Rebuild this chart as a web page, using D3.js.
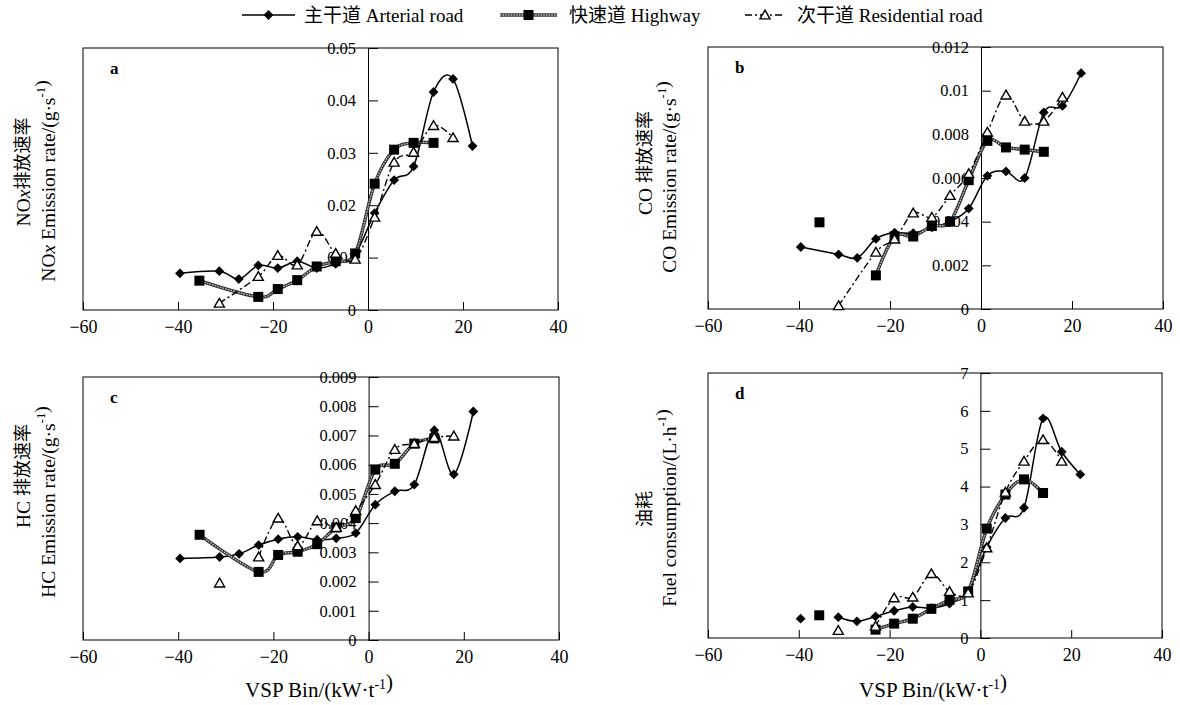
<!DOCTYPE html>
<html>
<head>
<meta charset="utf-8">
<script src="https://cdn.jsdelivr.net/npm/d3@7"></script>
<style>
  body { margin: 0; background: #fff; }
  text { font-family: "Liberation Serif", "Noto Sans CJK SC", serif; fill: #000; }
</style>
</head>
<body>
<svg id="chart" width="1180" height="705"></svg>
<script>
// VSP bin centres (kW/t) shared by all four panels
const vspBins = [-39.6, -35.5, -31.3, -27.2, -23.1, -19.0, -14.9, -10.8, -6.8, -2.7, 1.4, 5.5, 9.6, 13.8, 17.9, 22.0];
const xTickValues = [-60, -40, -20, 0, 20, 40];

// a: NOx emission rate (g/s); null = no sample in that bin
const noxArterial    = [0.0070, null, 0.0074, 0.0059, 0.0085, 0.0080, 0.0093, 0.0080, 0.0088, 0.0107, 0.0185, 0.0248, 0.0274, 0.0416, 0.0441, 0.0313];
const noxHighway     = [null, 0.0056, null, null, 0.0025, 0.0040, 0.0057, 0.0083, 0.0093, 0.0108, 0.0241, 0.0306, 0.0319, 0.0319, null, null];
const noxResidential = [null, null, 0.0013, null, 0.0064, 0.0104, 0.0086, 0.0150, 0.0108, 0.0097, 0.0177, 0.0282, 0.0301, 0.0352, 0.0329, null];

// b: CO emission rate (g/s)
const coArterial    = [0.00284, null, 0.00250, 0.00234, 0.00321, 0.00350, 0.00347, 0.00374, 0.00400, 0.00460, 0.00610, 0.00630, 0.00600, 0.00900, 0.00930, 0.01080];
const coHighway     = [null, 0.00397, null, null, 0.00154, 0.00332, 0.00332, 0.00380, 0.00400, 0.00590, 0.00770, 0.00740, 0.00730, 0.00720, null, null];
const coResidential = [null, null, 0.00015, null, 0.00260, 0.00320, 0.00440, 0.00420, 0.00520, 0.00620, 0.00810, 0.00980, 0.00860, 0.00860, 0.00970, null];

// c: HC emission rate (g/s)
const hcArterial    = [0.00279, null, 0.00284, 0.00295, 0.00325, 0.00345, 0.00353, 0.00343, 0.00348, 0.00366, 0.00463, 0.00509, 0.00532, 0.00718, 0.00567, 0.00782];
const hcHighway     = [null, 0.00360, null, null, 0.00233, 0.00291, 0.00302, 0.00328, 0.00385, 0.00417, 0.00583, 0.00603, 0.00672, 0.00690, null, null];
const hcResidential = [null, null, 0.00195, null, 0.00284, 0.00417, 0.00322, 0.00408, 0.00385, 0.00443, 0.00532, 0.00652, 0.00672, 0.00693, 0.00698, null];

// d: fuel consumption (L/h)
const fuelArterial    = [0.51, null, 0.55, 0.44, 0.57, 0.72, 0.82, 0.79, 0.91, 1.23, 2.40, 3.17, 3.44, 5.80, 4.92, 4.32];
const fuelHighway     = [null, 0.60, null, null, 0.22, 0.38, 0.51, 0.77, 1.01, 1.23, 2.89, 3.79, 4.19, 3.83, null, null];
const fuelResidential = [null, null, 0.20, null, 0.31, 1.06, 1.08, 1.70, 1.23, 1.19, 2.38, 3.85, 4.67, 5.24, 4.67, null];

// y-axis tick values per panel
const noxTicks  = [0, 0.01, 0.02, 0.03, 0.04, 0.05];
const coTicks   = [0, 0.002, 0.004, 0.006, 0.008, 0.01, 0.012];
const hcTicks   = [0, 0.001, 0.002, 0.003, 0.004, 0.005, 0.006, 0.007, 0.008, 0.009];
const fuelTicks = [0, 1, 2, 3, 4, 5, 6, 7];

// road types and legend labels
const roadTypes  = ["arterial", "highway", "residential"];
const roadLabels = ["主干道 Arterial road", "快速道 Highway", "次干道 Residential road"];

const svg = d3.select("#chart");
const X_TICK_FONT = 18;
const Y_TICK_FONT = 16.5;
const TITLE_FONT = 19.5;
const TITLE_CJK_FONT = 18;

const panels = [
  { tag: "a", box: [83, 558, 48, 310], ticks: noxTicks,
    data: { arterial: noxArterial, highway: noxHighway, residential: noxResidential },
    detached: {},
    title1: [["NO"], ["x", "i"], ["排放速率", "c"]], t1: [23, 172],
    title2: [["NO"], ["x", "i"], [" Emission rate/(g·s"], ["-1", "s"], [")"]], t2: [48, 181] },
  { tag: "b", box: [708, 1163, 47, 309], ticks: coTicks,
    data: { arterial: coArterial, highway: coHighway, residential: coResidential },
    detached: { highway: [1] },
    title1: [["CO "], ["排放速率", "c"]], t1: [645, 163],
    title2: [["CO Emission rate/(g·s"], ["-1", "s"], [")"]], t2: [669, 177] },
  { tag: "c", box: [83, 559, 377, 640], ticks: hcTicks,
    data: { arterial: hcArterial, highway: hcHighway, residential: hcResidential },
    detached: { residential: [2] },
    title1: [["HC "], ["排放速率", "c"]], t1: [23, 476],
    title2: [["HC Emission rate/(g·s"], ["-1", "s"], [")"]], t2: [48, 502] },
  { tag: "d", box: [708, 1162, 373, 638], ticks: fuelTicks,
    data: { arterial: fuelArterial, highway: fuelHighway, residential: fuelResidential },
    detached: { arterial: [0], highway: [1], residential: [2] },
    title1: [["油耗", "c"]], t1: [645, 509],
    title2: [["Fuel consumption/(L·h"], ["-1", "s"], [")"]], t2: [669, 508] }
];

// text with italic / superscript / CJK runs
function richText(sel, parts, size) {
  parts.forEach(([t, style]) => {
    if (style === "s") {
      sel.append("tspan").attr("font-size", size * 0.66).attr("dy", -size * 0.38).text(t);
      sel.append("tspan").attr("dy", size * 0.38).text("");
    } else {
      const ts = sel.append("tspan").text(t);
      if (style === "i") ts.attr("font-style", "italic");
      if (style === "c") ts.attr("font-size", TITLE_CJK_FONT);
    }
  });
  return sel;
}

// marker shapes
function drawMarker(g, type, cx, cy) {
  if (type === "arterial") {
    g.append("path").attr("d", d3.symbol(d3.symbolSquare, 48)())
      .attr("transform", `translate(${cx},${cy}) rotate(45)`).attr("fill", "#000");
  } else if (type === "highway") {
    g.append("path").attr("d", d3.symbol(d3.symbolSquare, 100)())
      .attr("transform", `translate(${cx},${cy})`).attr("fill", "#000");
  } else {
    g.append("path").attr("d", d3.symbol(d3.symbolTriangle, 44)())
      .attr("transform", `translate(${cx},${cy + 1})`)
      .attr("fill", "#fff").attr("stroke", "#000").attr("stroke-width", 1.4);
  }
}

// line styles per road type
function drawLine(g, type, d) {
  if (type === "arterial") {
    g.append("path").attr("d", d).attr("fill", "none").attr("stroke", "#000").attr("stroke-width", 1.5);
  } else if (type === "highway") {
    g.append("path").attr("d", d).attr("fill", "none").attr("stroke", "#333").attr("stroke-width", 3.4);
    g.append("path").attr("d", d).attr("fill", "none").attr("stroke", "#c8c8c8").attr("stroke-width", 1.3)
      .attr("stroke-dasharray", "1.5,1.2");
  } else {
    g.append("path").attr("d", d).attr("fill", "none").attr("stroke", "#000").attr("stroke-width", 1.4)
      .attr("stroke-dasharray", "7,3,2,3");
  }
}

panels.forEach((p, pi) => {
  const [x0, x1, y0, y1] = p.box;
  const yMax = p.ticks[p.ticks.length - 1];
  const x = d3.scaleLinear().domain([-60, 40]).range([x0, x1]);
  const y = d3.scaleLinear().domain([0, yMax]).range([y1, y0]);
  const g = svg.append("g");

  // clip region for curves
  const clipId = "clip-" + p.tag;
  svg.append("clipPath").attr("id", clipId).append("rect")
    .attr("x", x0).attr("y", y0).attr("width", x1 - x0).attr("height", y1 - y0);

  // frame
  g.append("rect").attr("x", x0).attr("y", y0).attr("width", x1 - x0).attr("height", y1 - y0)
    .attr("fill", "none").attr("stroke", "#000").attr("stroke-width", 1);

  // x axis ticks (inward) and labels
  const xAxis = d3.axisBottom(x).tickValues(xTickValues).tickSizeInner(-8).tickSizeOuter(0).tickPadding(10)
    .tickFormat(d3.format("d"));
  const xg = g.append("g").attr("transform", `translate(0,${y1})`).call(xAxis);
  xg.select(".domain").remove();
  xg.selectAll("line").attr("stroke", "#000");
  xg.selectAll("text").attr("font-size", X_TICK_FONT).attr("font-family", "Liberation Serif").attr("fill", "#000");

  // y axis at VSP = 0 with ticks to the right, labels to the left
  const yAxis = d3.axisRight(y).tickValues(p.ticks).tickSizeInner(10).tickSizeOuter(0)
    .tickFormat(v => v === 0 ? "0" : String(+v.toFixed(4)));
  const yg = g.append("g").attr("transform", `translate(${x(0)},0)`).call(yAxis);
  yg.select(".domain").attr("stroke", "#000");
  yg.selectAll("line").attr("stroke", "#000");
  yg.selectAll("text").attr("x", -12).attr("text-anchor", "end").attr("font-size", Y_TICK_FONT)
    .attr("font-family", "Liberation Serif").attr("fill", "#000");

  // panel letter
  g.append("text").attr("x", x0 + 27).attr("y", y0 + 26).attr("font-weight", "bold")
    .attr("font-size", 17).text(p.tag);

  // series: lines first, then markers
  const line = d3.line().x(d => x(d[0])).y(d => y(d[1])).curve(d3.curveCardinal.tension(0));
  const plot = g.append("g").attr("clip-path", `url(#${clipId})`);
  const marks = g.append("g");
  roadTypes.forEach(type => {
    const vals = p.data[type];
    const off = p.detached[type] || [];
    const pts = vspBins.map((v, i) => [v, vals[i], i]).filter(d => d[1] != null);
    const joined = pts.filter(d => !off.includes(d[2]));
    drawLine(plot, type, line(joined));
    pts.forEach(d => drawMarker(marks, type, x(d[0]), y(d[1])));
  });

  // y titles (two lines, rotated)
  richText(svg.append("text").attr("font-size", TITLE_FONT).attr("text-anchor", "middle")
    .attr("dominant-baseline", "central")
    .attr("transform", `translate(${p.t1[0]},${p.t1[1]}) rotate(-90)`), p.title1, TITLE_FONT);
  richText(svg.append("text").attr("font-size", TITLE_FONT).attr("text-anchor", "middle")
    .attr("dominant-baseline", "central")
    .attr("transform", `translate(${p.t2[0]},${p.t2[1]}) rotate(-90)`), p.title2, TITLE_FONT);

  // x title under bottom panels
  if (pi >= 2) {
    richText(svg.append("text").attr("x", (x0 + x1) / 2 - 2).attr("y", 697).attr("font-size", 21)
      .attr("text-anchor", "middle"), [["VSP Bin/(kW·t"], ["-1", "s"], [")"]], 21);
  }
});

// legend
const legendItems = [
  { type: "arterial", x0: 242, x1: 295, text: 304 },
  { type: "highway", x0: 500, x1: 557, text: 569 },
  { type: "residential", x0: 745, x1: 785, text: 797 }
];
const lg = svg.append("g");
legendItems.forEach((it, i) => {
  const ly = 15;
  drawLine(lg, it.type, `M${it.x0},${ly}L${it.x1},${ly}`);
  drawMarker(lg, it.type, (it.x0 + it.x1) / 2, ly);
  lg.append("text").attr("x", it.text).attr("y", ly).attr("dominant-baseline", "central")
    .attr("font-size", 19).text(roadLabels[i]);
});
</script>
</body>
</html>
